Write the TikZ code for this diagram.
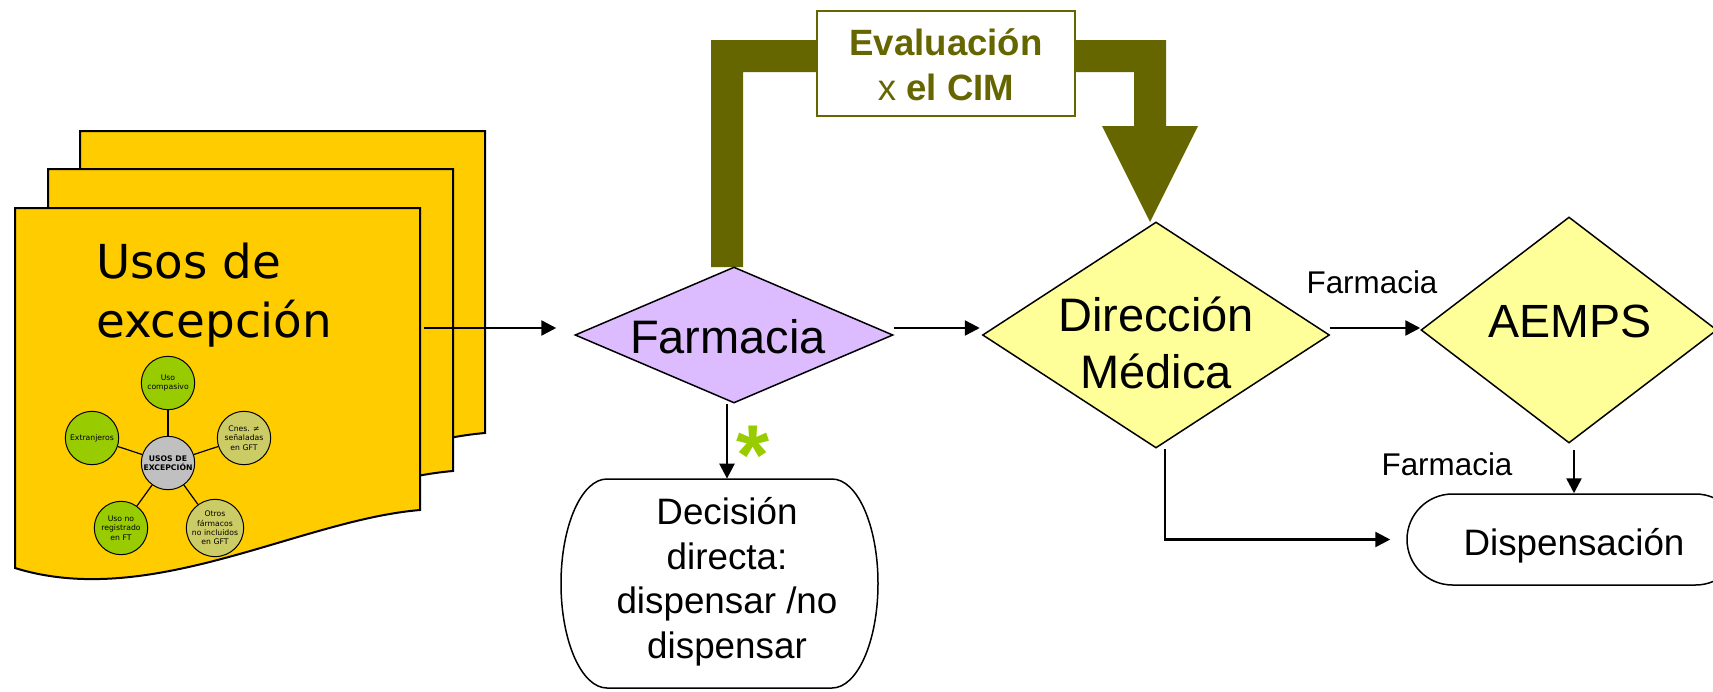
\documentclass[tikz,border=0pt]{standalone}
\usepackage{fontspec}
\setmainfont{Liberation Sans}
\newfontfamily\dvs{DejaVu Sans}
\usetikzlibrary{shapes.geometric,shapes.misc,arrows.meta,calc}
\definecolor{pageyellow}{HTML}{FFCC00}
\definecolor{arrolive}{HTML}{666600}
\definecolor{lav}{HTML}{DDBBFF}
\definecolor{lyellow}{HTML}{FFFF99}
\definecolor{cgreen}{HTML}{99CC00}
\definecolor{colive}{HTML}{CCCC66}
\definecolor{cgray}{HTML}{C0C0C0}
\newcommand\docpagepath{(15,208) -- (420,208) -- (420,510) .. controls (300,520) and (150,610) .. (15,568) -- cycle}
\begin{document}
\begin{tikzpicture}[x=0.5pt,y=-0.5pt,
  page/.style={fill=pageyellow,draw=black,line width=1pt},
  dia/.style={diamond,draw=black,line width=0.75pt,inner sep=0pt},
  arr/.style={line width=1.25pt,-{Triangle[length=7.5pt,width=7.5pt]}},
  circ/.style={circle,draw=black,line width=0.5pt,minimum size=26.7pt,inner sep=0pt,align=center,font=\dvs\fontsize{3.85pt}{4.7pt}\selectfont},
  spoke/.style={draw=black,line width=0.6pt},
  bigtxt/.style={anchor=base,font=\fontsize{23.5pt}{28pt}\selectfont},
  midtxt/.style={anchor=base,font=\fontsize{18.4pt}{22pt}\selectfont},
  smalltxt/.style={anchor=base,font=\fontsize{15.7pt}{18pt}\selectfont},
  evtxt/.style={anchor=base,text=arrolive,font=\fontsize{18.3pt}{22pt}\selectfont},
  doctxt/.style={anchor=base west,font=\dvs\fontsize{23.4pt}{28pt}\selectfont}]
\fill[white] (0,0) rectangle (1713,691);
\useasboundingbox (0,0) rectangle (1713,691);

% stacked pages
\begin{scope}[shift={(65,-77)}]
  \path[page] \docpagepath;
\end{scope}
\begin{scope}[shift={(33,-39)}]
  \path[page] \docpagepath;
\end{scope}
\path[page] \docpagepath;

\node[doctxt] (u1) at (89,278) {Usos de};
\node[doctxt] (u2) at (89,337) {excepción};

% small radial diagram
\node[circ,fill=cgray,font=\dvs\bfseries\fontsize{3.85pt}{4.7pt}\selectfont] (cc) at (168,463) {USOS DE\\EXCEPCIÓN};
\node[circ,fill=cgreen] (c1) at (168,383) {Uso\\compasivo};
\node[circ,fill=colive] (c2) at (244,438) {Cnes. ≠\\señaladas\\en GFT};
\node[circ,fill=colive] (c3) at (215,528) {Otros\\fármacos\\no incluidos\\en GFT};
\node[circ,fill=cgreen] (c4) at (121,528) {Uso no\\registrado\\en FT};
\node[circ,fill=cgreen] (c5) at (92,438) {Extranjeros};
\foreach \c in {c1,c2,c3,c4,c5} \draw[spoke] (cc) -- (\c);

% thick olive U-arrow
\fill[arrolive] (711,267) -- (711,40) -- (1166,40) -- (1166,126) -- (1198,126) -- (1150,222) -- (1102,126) -- (1134,126) -- (1134,72) -- (743,72) -- (743,267) -- cycle;
\node[draw=arrolive,line width=0.7pt,fill=white,minimum width=129pt,minimum height=52.5pt,inner sep=0pt] (eval) at (946,63.5) {};
\node[evtxt] (ev1) at (946,55) {\bfseries Evaluación};
\node[evtxt] (ev2) at (946,100) {x \bfseries el CIM};

% diamonds
\node[dia,fill=lav,minimum width=159pt,minimum height=68pt] (far) at (734,335) {};
\node[bigtxt] (fart) at (728,353) {Farmacia};
\node[dia,fill=lyellow,minimum width=173.5pt,minimum height=113pt] (dir) at (1156,335) {};
\node[bigtxt] (dir1) at (1156,331) {Dirección};
\node[bigtxt] (dir2) at (1156,388) {Médica};
\node[dia,fill=lyellow,minimum width=148pt,minimum height=113pt] (aem) at (1569,330) {};
\node[bigtxt,font=\fontsize{23.3pt}{28pt}\selectfont] (aemt) at (1570,337) {AEMPS};

% decision box
\node[minimum width=158.5pt,minimum height=104.5pt,inner sep=0pt] (dec) at (719.5,583.5) {};
\draw[line width=0.75pt,fill=white] (607,479) -- (832,479) arc[start angle=-90,end angle=90,x radius=46,y radius=104.5] -- (607,688) arc[start angle=90,end angle=270,x radius=46,y radius=104.5] -- cycle;
\node[midtxt] (d1) at (727,524) {Decisión};
\node[midtxt] (d2) at (727,569) {directa:};
\node[midtxt] (d3) at (727,613) {dispensar /no};
\node[midtxt] (d4) at (727,658) {dispensar};

% dispensacion
\node[rounded rectangle,draw=black,line width=0.75pt,fill=white,minimum width=167pt,minimum height=45.5pt,inner sep=0pt] (disp) at (1574,539.5) {};
\node[midtxt] (dispt) at (1574,555) {Dispensación};

% labels
\node[smalltxt] (lab1) at (1372,293) {Farmacia};
\node[smalltxt] (lab2) at (1447,475) {Farmacia};
\node[anchor=base,text=cgreen,inner sep=0pt,font=\bfseries\fontsize{42.5pt}{44pt}\selectfont] (star) at (753,484) {*};

% connectors
\coordinate (docout) at (424,328);
\draw[arr,shorten >=9pt] (docout) -- (docout -| far.west);
\draw[arr,shorten >=1pt] ([yshift=3.5pt]far.east) -- ([yshift=3.5pt]far.east -| dir.west);
\draw[arr] ([yshift=3.5pt]dir.east) -- ([yshift=3.5pt]dir.east -| aem.west);
\draw[arr] ([xshift=-3.5pt]far.south) -- ([xshift=-3.5pt]far.south |- dec.north);
\draw[arr] ([xshift=2.5pt,yshift=-3pt]aem.south) -- ([xshift=2.5pt]aem.south |- disp.north);
\draw[arr,shorten >=8pt] ([xshift=4.5pt]dir.south) |- (disp.west);
\end{tikzpicture}
\end{document}
